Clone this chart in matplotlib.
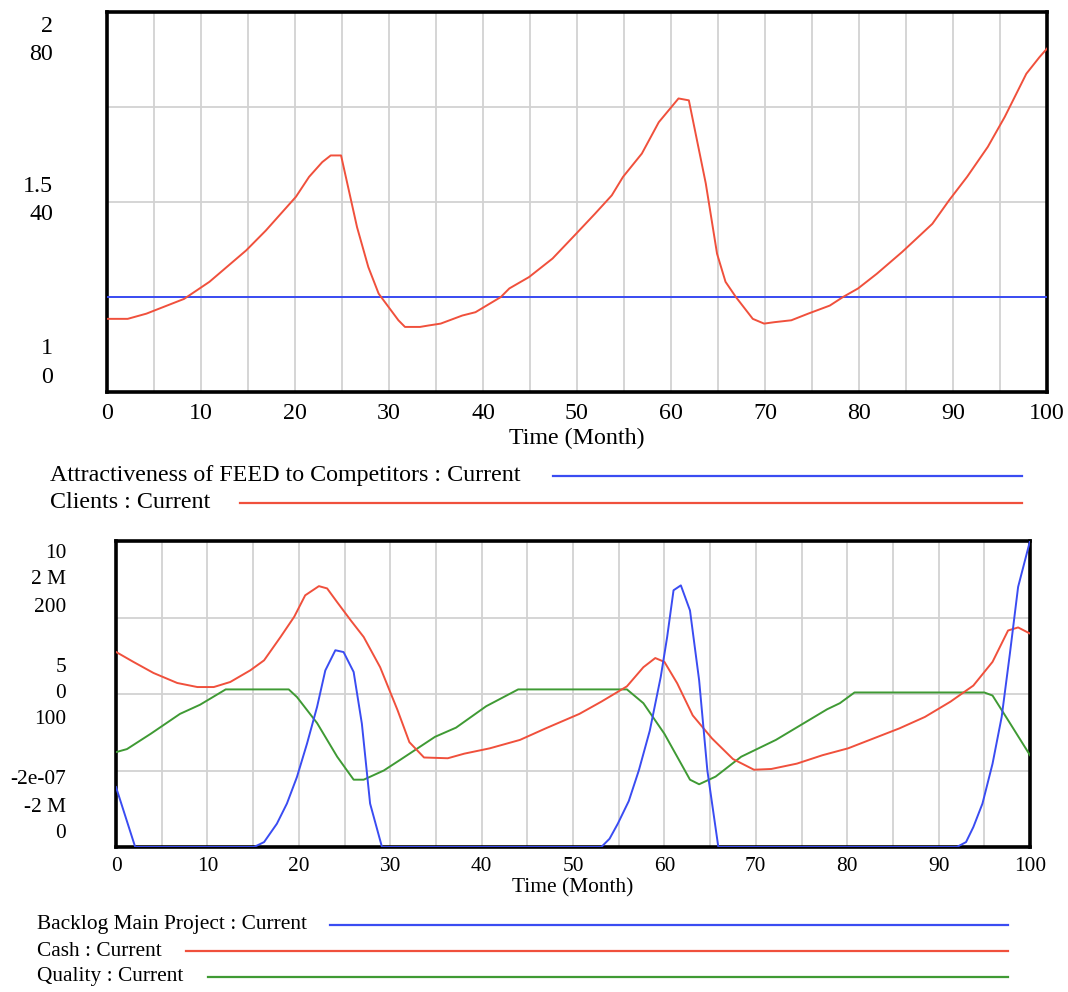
import matplotlib
matplotlib.use("Agg")
import matplotlib.pyplot as plt
from matplotlib.lines import Line2D

plt.rcParams['font.family'] = ['Liberation Serif', 'DejaVu Serif']

# ---- top chart data (Time in months) ----
clients_t = [0, 2.2, 4.2, 5.1, 8.2, 10.9, 14.8, 16.9, 20.1, 21.5, 22.9, 23.8, 24.9, 26.6, 27.8, 28.9,
             31.0, 31.7, 33.3, 34.2, 35.5, 37.8, 39.2, 41.9, 42.8, 44.9, 47.4, 49.9, 51.9, 53.7, 54.9,
             56.9, 58.7, 60.8, 61.9, 63.7, 64.9, 65.8, 66.9, 68.7, 69.9, 71.0, 72.8, 74.6, 76.9, 78.3,
             79.9, 81.9, 84.6, 87.8, 89.6, 91.5, 93.7, 95.5, 97.8, 99.2, 100]
clients = [15.4, 15.4, 16.5, 17.2, 19.6, 23.2, 29.8, 34.0, 41.1, 45.3, 48.4, 49.8, 49.8, 34.7, 26.3, 20.7,
           15.1, 13.7, 13.7, 14.0, 14.4, 16.1, 16.8, 20.0, 21.8, 24.2, 28.1, 33.3, 37.5, 41.4, 45.3,
           50.2, 56.8, 61.8, 61.4, 43.9, 29.1, 23.2, 20.0, 15.4, 14.4, 14.7, 15.1, 16.5, 18.2, 20.0,
           21.8, 24.9, 29.5, 35.4, 40.4, 45.3, 51.6, 57.9, 67.0, 70.5, 72.3]
attract_t = [0, 100]
attract = [1.25, 1.25]

# ---- bottom chart data ----
backlog_t = [0, 2.1, 15.1, 16.2, 17.6, 18.7, 19.8, 20.9, 22.0, 22.9, 24.0, 24.9, 26.0, 26.9, 27.8, 29.1,
             53.1, 54.0, 54.9, 56.1, 57.2, 58.4, 59.6, 60.3, 61.0, 61.8, 62.8, 63.8, 64.7, 65.9,
             92.0, 93.0, 93.8, 94.8, 95.9, 96.9, 97.8, 98.7, 100]
backlog = [1.96, 0, 0, 0.16, 0.76, 1.42, 2.29, 3.38, 4.58, 5.77, 6.43, 6.37, 5.72, 4.03, 1.42, 0,
           0, 0.27, 0.76, 1.5, 2.5, 3.8, 5.56, 6.86, 8.39, 8.55, 7.73, 5.45, 2.5, 0,
           0, 0.16, 0.65, 1.42, 2.72, 4.25, 6.32, 8.5, 10.0]

cash_t = [0, 1.9, 4.1, 6.7, 8.9, 10.7, 12.5, 14.7, 16.2, 18.0, 19.5, 20.7, 22.2, 23.1, 24.2, 25.7, 27.1,
          28.9, 30.8, 32.1, 33.7, 36.3, 38.1, 40.9, 44.2, 47.0, 50.7, 53.1, 55.9, 57.7, 59.0, 60.0,
          61.4, 63.1, 65.2, 67.5, 69.8, 71.7, 74.5, 77.3, 80.1, 82.9, 85.7, 88.5, 91.3, 93.8, 95.9,
          97.6, 98.7, 100]
cash = [0.55, 0.42, 0.275, 0.144, 0.091, 0.091, 0.157, 0.31, 0.44, 0.745, 1.01, 1.29, 1.41, 1.38, 1.2,
        0.96, 0.745, 0.35, -0.21, -0.63, -0.83, -0.84, -0.78, -0.71, -0.60, -0.45, -0.26, -0.10, 0.10,
        0.35, 0.47, 0.42, 0.14, -0.28, -0.58, -0.85, -0.99, -0.98, -0.91, -0.80, -0.71, -0.58, -0.45,
        -0.30, -0.10, 0.11, 0.42, 0.83, 0.87, 0.79]  # millions

quality_t = [0, 1.2, 3.8, 7.0, 9.2, 12.0, 18.9, 19.8, 22.0, 24.2, 26.0, 27.1, 29.3, 31.1, 34.9, 37.2,
             40.5, 44.0, 55.9, 57.7, 60.0, 62.8, 63.8, 65.6, 68.4, 72.2, 77.8, 79.2, 80.8, 95.0, 95.9,
             97.8, 100]
quality = [62, 64, 74, 87, 93, 103, 103, 98, 81, 59, 44, 44, 50, 57, 72, 78,
           92, 103, 103, 94, 74, 44, 41, 46, 59, 70, 90, 94, 101, 101, 99,
           81, 60]

W, H = 1068, 992
RED = '#f0503c'
BLUE = '#3a4cf2'
GREEN = '#3f9a34'
GRID = '#d2d2d2'
FS_TOP = 17.3
FS_BOT = 15.4


def fx(x):
    return x / W


def fy(y):
    return 1 - y / H


def setup(ax, fs, tick_pad, xlabel_pad):
    ax.set_xlim(0, 100)
    ax.set_xticks(range(0, 101, 10))
    ax.set_xticks(range(0, 101, 5), minor=True)
    ax.set_yticks([0, 0.25, 0.5, 0.75, 1.0])
    ax.set_yticklabels([])
    ax.set_ylim(0, 1)
    ax.grid(True, which='both', axis='x', color=GRID, lw=1.3)
    ax.grid(True, which='major', axis='y', color=GRID, lw=1.3)
    ax.tick_params(axis='x', which='both', length=0, labelsize=fs, pad=tick_pad)
    ax.tick_params(axis='y', length=0)
    for s in ax.spines.values():
        s.set_linewidth(2.6)
    ax.set_xlabel('Time (Month)', fontsize=fs, labelpad=xlabel_pad)
    ax.set_axisbelow(True)


def overlay(ax, t, v, lo, hi, color):
    a = ax.twinx()
    a.set_ylim(lo, hi)
    a.set_xlim(0, 100)
    a.axis('off')
    a.plot(t, v, color=color, lw=1.4)
    return a


fig = plt.figure(figsize=(W / 100, H / 100), dpi=100)

# top chart
ax1 = fig.add_axes([fx(107), fy(392), fx(940), 380 / H])
setup(ax1, FS_TOP, 8, 3)
overlay(ax1, attract_t, attract, 1, 2, BLUE)
overlay(ax1, clients_t, clients, 0, 80, RED)

top_labels = [("2", 27), ("80", 55), ("1.5", 187), ("40", 215), ("1", 348), ("0", 377)]
for s, y in top_labels:
    fig.text(fx(53), fy(y), s, ha='right', va='center', fontsize=FS_TOP)

# bottom chart
ax2 = fig.add_axes([fx(116), fy(847), fx(914), 306 / H])
setup(ax2, FS_BOT, 7, 2)
overlay(ax2, quality_t, quality, 0, 200, GREEN)
overlay(ax2, cash_t, cash, -2, 2, RED)
overlay(ax2, backlog_t, backlog, 0, 10, BLUE)

bot_labels = [("10", 553), ("2 M", 580), ("200", 607), ("5", 668), ("0", 693), ("100", 720),
              ("-2e-07", 780), ("-2 M", 807), ("0", 833)]
for s, y in bot_labels:
    fig.text(fx(66), fy(y), s, ha='right', va='center', fontsize=FS_BOT)

# legends
legend_rows = [
    ("Attractiveness of FEED to Competitors : Current", 50, 476, 553, 1022, BLUE, FS_TOP),
    ("Clients : Current", 50, 503, 240, 1022, RED, FS_TOP),
    ("Backlog Main Project : Current", 37, 925, 330, 1008, BLUE, FS_BOT),
    ("Cash : Current", 37, 951, 186, 1008, RED, FS_BOT),
    ("Quality : Current", 37, 977, 208, 1008, GREEN, FS_BOT),
]
for label, tx, y, x0, x1, c, fs in legend_rows:
    fig.text(fx(tx), fy(y), label, ha='left', va='center', fontsize=fs)
    fig.add_artist(Line2D([fx(x0), fx(x1)], [fy(y), fy(y)], color=c, lw=1.6))

fig.savefig('out.png', dpi=100)
